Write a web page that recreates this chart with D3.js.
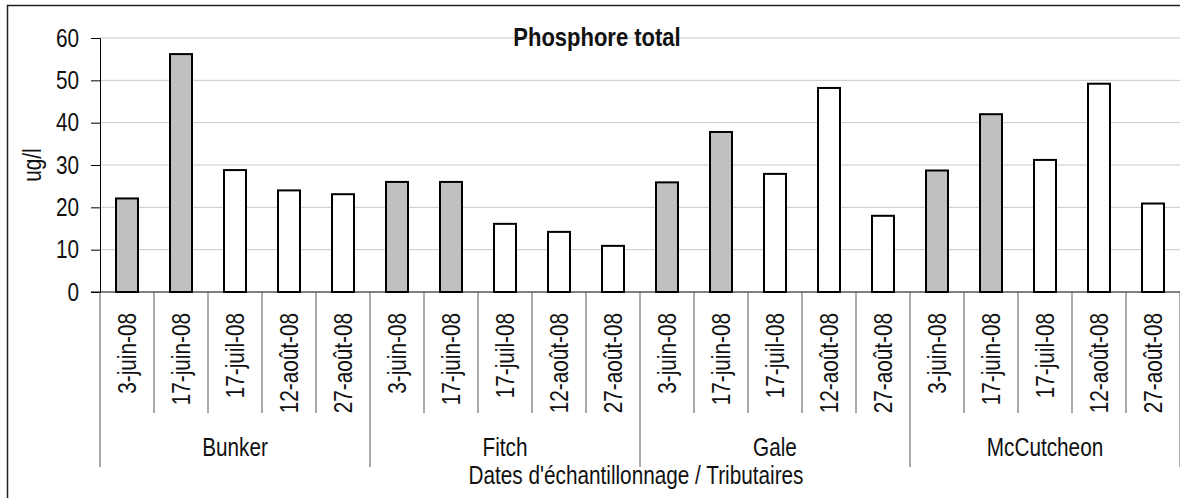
<!DOCTYPE html>
<html>
<head>
<meta charset="utf-8">
<script src="https://cdn.jsdelivr.net/npm/d3@7"></script>
<style>
  body { margin: 0; background: #fff; }
  svg text { font-family: "Liberation Sans", Arial, sans-serif; fill: #111; }
</style>
</head>
<body>
<svg id="container" width="1180" height="498"></svg>
<script>
// data
const tributaries = ['Bunker', 'Fitch', 'Gale', 'McCutcheon'];
const dates = ['3-juin-08', '17-juin-08', '17-juil-08', '12-août-08', '27-août-08'];
const grayDates = ['3-juin-08', '17-juin-08'];
const values = [
  22.1, 56.2, 28.8, 24.0, 23.1,   // Bunker
  26.0, 26.0, 16.1, 14.2, 10.9,   // Fitch
  25.9, 37.8, 27.9, 48.2, 18.0,   // Gale
  28.7, 42.0, 31.2, 49.2, 20.9    // McCutcheon
];
const yTicks = [0, 10, 20, 30, 40, 50, 60];

const MARGIN = { TOP: 38, BOTTOM: 206, LEFT: 100, RIGHT: 0 };
const width = 1180, height = 498;
// no narrow font installed, so squeeze a regular one
const FONT = 25;
const SQUEEZE = 0.83;

const rows = [];
tributaries.forEach((t, gi) => {
  dates.forEach((d, di) => {
    rows.push({ key: gi * dates.length + di, trib: t, date: d, value: values[gi * dates.length + di] });
  });
});

const svg = d3.select('#container');

// frame
svg.append('rect')
  .attr('x', 7.5).attr('y', 5.5)
  .attr('width', 1200).attr('height', 520)
  .attr('fill', 'none').attr('stroke', '#222').attr('stroke-width', 1.5);

const x = d3.scaleBand()
  .domain(rows.map(d => d.key))
  .range([MARGIN.LEFT, width - MARGIN.RIGHT])
  .paddingInner(0.593)
  .paddingOuter(0.2965);

const y = d3.scaleLinear()
  .domain([0, 60])
  .range([height - MARGIN.BOTTOM, MARGIN.TOP]);

const y0 = y(0);
const step = x.step();
const xLeft = k => MARGIN.LEFT + k * step;

const label = (g, tx, ty, rot) =>
  g.append('text')
    .attr('transform', `translate(${tx},${ty})${rot ? ' rotate(' + rot + ')' : ''} scale(${SQUEEZE},1)`)
    .attr('font-size', FONT);

// gridlines
svg.append('g').attr('class', 'grid')
  .selectAll('line')
  .data(yTicks.filter(t => t > 0))
  .enter().append('line')
  .attr('x1', MARGIN.LEFT).attr('x2', width)
  .attr('y1', d => y(d)).attr('y2', d => y(d))
  .attr('stroke', '#c8c8c8').attr('stroke-width', 1);

// title
label(svg, 597, 46)
  .attr('text-anchor', 'middle')
  .attr('font-weight', 'bold')
  .attr('font-size', 26.5)
  .text('Phosphore total');

// bars
svg.append('g').attr('class', 'bars')
  .selectAll('rect')
  .data(rows)
  .enter().append('rect')
  .attr('x', d => x(d.key))
  .attr('width', x.bandwidth())
  .attr('y', d => y(d.value))
  .attr('height', d => y0 - y(d.value))
  .attr('fill', d => grayDates.includes(d.date) ? '#c0c0c0' : '#fff')
  .attr('stroke', '#000').attr('stroke-width', 2);

// y axis
const yAxis = svg.append('g')
  .attr('transform', `translate(${MARGIN.LEFT},0)`)
  .call(d3.axisLeft(y).tickValues(yTicks).tickSize(9).tickPadding(12));
yAxis.select('.domain').attr('stroke', '#000');
yAxis.selectAll('.tick line').attr('stroke', '#000');
yAxis.selectAll('.tick text')
  .attr('font-size', FONT).attr('font-family', null).attr('fill', '#111')
  .attr('x', null)
  .attr('transform', `translate(-21,0) scale(${SQUEEZE},1)`);

label(svg, 41, (y(0) + y(60)) / 2, -90)
  .attr('text-anchor', 'middle')
  .text('ug/l');

// x axis line
svg.append('line')
  .attr('x1', MARGIN.LEFT - 9).attr('x2', width)
  .attr('y1', y0).attr('y2', y0)
  .attr('stroke', '#000').attr('stroke-width', 1);

// category separators
svg.append('g').attr('class', 'cat-ticks')
  .selectAll('line')
  .data(d3.range(rows.length + 1))
  .enter().append('line')
  .attr('x1', k => xLeft(k)).attr('x2', k => xLeft(k))
  .attr('y1', y0)
  .attr('y2', k => k % dates.length === 0 ? 467 : 413)
  .attr('stroke', '#555').attr('stroke-width', 1);

// date labels
const dateG = svg.append('g').attr('class', 'date-labels');
rows.forEach(d => {
  label(dateG, x(d.key) + x.bandwidth() / 2, 313, -90)
    .attr('text-anchor', 'end')
    .attr('dy', '0.35em')
    .text(d.date);
});

// tributary labels
const groupG = svg.append('g').attr('class', 'group-labels');
tributaries.forEach((t, i) => {
  label(groupG, xLeft(i * dates.length) + step * dates.length / 2, 456)
    .attr('text-anchor', 'middle')
    .text(t);
});

// axis title
label(svg, 636, 484)
  .attr('text-anchor', 'middle')
  .text("Dates d'échantillonnage / Tributaires");
</script>
</body>
</html>
